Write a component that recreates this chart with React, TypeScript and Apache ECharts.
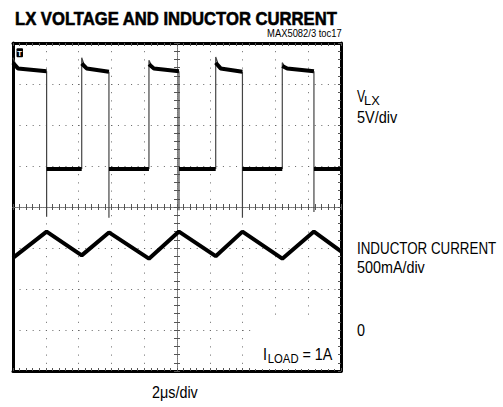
import React, { useEffect, useRef } from "react";
import * as echarts from "echarts";

// ---- LX voltage trace (time in µs, volts) ----
const highStartTimes = [0, 4.19, 8.29, 12.36, 16.42];
const fallTimes = [2.05, 5.85, 10.12, 13.99, 18.35];
const riseTimes = [4.19, 8.29, 12.36, 16.42];
const highPeakV = [13.2, 13.2, 12.9, 13.3, 12.6];
const highStartV = [12.6, 12.5, 12.4, 12.6, 12.2];
const highSettleV = [11.9, 11.9, 11.9, 11.9, 11.9];
const highEndV = [11.55, 11.5, 11.55, 11.5, 11.55];
const lowV = [-0.37, -0.37, -0.37, -0.37, -0.37];
const spikeV = [-6.2, -6.3, -5.4, -6.3, -5.6];

// ---- Inductor current trace (time in µs, amps) ----
const iTimes = [0, 2.05, 4.19, 5.85, 8.29, 10.12, 12.36, 13.99, 16.42, 18.35, 20];
const iAmps = [0.88, 1.2, 0.91, 1.19, 0.87, 1.2, 0.9, 1.2, 0.87, 1.2, 0.96];

const T_END = 20;

const FONT = "Liberation Sans, Arial, sans-serif";

function buildOption() {
  const levels: any[] = [];
  for (let i = 0; i < highStartTimes.length; i++) {
    const hs = highStartTimes[i];
    const he = fallTimes[i];
    levels.push([hs, highStartV[i]], [hs + 0.3, highSettleV[i]], [he, highEndV[i]], [he, "-"]);
    const le = i < riseTimes.length ? riseTimes[i] : T_END;
    levels.push([he, lowV[i]], [le, lowV[i]], [le, "-"]);
  }
  const edges: any[] = [];
  for (let i = 0; i < fallTimes.length; i++) {
    edges.push([fallTimes[i], highEndV[i]], [fallTimes[i], spikeV[i]], [fallTimes[i], "-"]);
  }
  edges.push([highStartTimes[0], highPeakV[0]], [highStartTimes[0] + 0.12, highStartV[0]], [0, "-"]);
  for (let i = 0; i < riseTimes.length; i++) {
    edges.push(
      [riseTimes[i], lowV[i]],
      [riseTimes[i], highPeakV[i + 1]],
      [riseTimes[i] + 0.12, highStartV[i + 1]],
      [riseTimes[i], "-"]
    );
  }
  const current = iTimes.map((t, k) => [t, iAmps[k]]);

  const tickStyle = { color: "#555", width: 1 };
  const frameLine = { show: true, onZero: false, lineStyle: { color: "#000", width: 3 } };
  const centerLine = (idx: number) => ({
    show: true,
    onZero: true,
    onZeroAxisIndex: idx,
    lineStyle: { color: "#777", width: 1, type: [1, 1] },
  });
  const ticks = { show: true, inside: true, length: 3, lineStyle: tickStyle };
  const minor = { show: true, splitNumber: 5, length: 3, lineStyle: tickStyle };
  const noLabel = { show: false };
  const timeAxis = { type: "value", min: 0, max: T_END, interval: 2, axisLabel: noLabel };
  const divAxis = { type: "value", min: -4, max: 4, interval: 1, axisLabel: noLabel };

  const txt = (
    text: string,
    x: number,
    y: number,
    size: number,
    scaleX: number,
    opts: any = {}
  ) => ({
    type: "text",
    x,
    y,
    scaleX,
    z: 101,
    style: {
      text,
      x: 0,
      y: 0,
      fill: opts.fill || "#000",
      font: `${opts.weight || "normal"} ${size}px ${FONT}`,
      align: opts.align || "left",
      verticalAlign: "middle",
      stroke: opts.stroke || undefined,
      lineWidth: opts.lineWidth || 0,
    },
  });

  return {
    animation: false,
    backgroundColor: "#fff",
    grid: { left: 13, top: 43, width: 328, height: 328, containLabel: false },
    xAxis: [
      { ...timeAxis, position: "bottom", axisLine: frameLine, axisTick: ticks, minorTick: minor,
        splitLine: { show: true, lineStyle: { color: "#666", width: 1, type: [1, 7.2] } } },
      { ...timeAxis, position: "top", axisLine: frameLine, axisTick: ticks, minorTick: minor, splitLine: { show: false } },
      { ...timeAxis, position: "bottom", axisLine: centerLine(0), axisTick: ticks, minorTick: minor, splitLine: { show: false } },
      { ...timeAxis, position: "top", axisLine: centerLine(0), axisTick: ticks, minorTick: minor, splitLine: { show: false } },
      { type: "value", min: -5, max: 5, show: false },
    ],
    yAxis: [
      { ...divAxis, position: "left", axisLine: frameLine, axisTick: { show: false },
        splitLine: { show: true, lineStyle: { color: "#666", width: 1, type: [1, 5.56] } } },
      { ...divAxis, position: "right", axisLine: frameLine, axisTick: ticks, minorTick: minor, splitLine: { show: false } },
      { ...divAxis, position: "left", axisLine: centerLine(4), axisTick: ticks, minorTick: minor, splitLine: { show: false } },
      { ...divAxis, position: "right", axisLine: centerLine(4), axisTick: ticks, minorTick: minor, splitLine: { show: false } },
      { type: "value", min: -25, max: 15, show: false },
      { type: "value", min: -0.5, max: 3.5, show: false },
    ],
    series: [
      { type: "line", name: "VLX edges", xAxisIndex: 0, yAxisIndex: 4, data: edges, symbol: "none",
        lineStyle: { color: "#444", width: 1.2 }, z: 3 },
      { type: "line", name: "VLX", xAxisIndex: 0, yAxisIndex: 4, data: levels, symbol: "none",
        lineStyle: { color: "#000", width: 4, cap: "butt" }, z: 4 },
      { type: "line", name: "Inductor current", xAxisIndex: 0, yAxisIndex: 5, data: current, symbol: "none",
        lineStyle: { color: "#000", width: 4 }, z: 4 },
    ],
    graphic: [
      { type: "rect", z: 100, shape: { x: 252, y: 320, width: 84, height: 49 }, style: { fill: "#fff" } },
      { type: "rect", z: 100, shape: { x: 16.5, y: 48.3, width: 6.5, height: 9, r: 1 }, style: { fill: "#000" } },
      txt("T", 19.75, 53, 8, 1, { weight: "bold", align: "center", fill: "#fff" }),
      txt("LX VOLTAGE AND INDUCTOR CURRENT", 15, 18.6, 18.5, 0.9, { weight: "bold", stroke: "#000", lineWidth: 0.6 }),
      txt("MAX5082/3 toc17", 341.7, 33.2, 10, 0.94, { align: "right" }),
      txt("V", 357, 96.2, 17, 0.72),
      txt("LX", 364, 100.4, 13.5, 0.95),
      txt("5V/div", 357, 117.6, 16.5, 0.88),
      txt("INDUCTOR CURRENT", 357, 247.6, 16.5, 0.81),
      txt("500mA/div", 357, 267.6, 16.5, 0.87),
      txt("0", 357, 330.2, 16.5, 0.87),
      txt("2\u03bcs/div", 152, 392.6, 16.5, 0.87),
      txt("I", 263, 354, 16.5, 0.87),
      txt("LOAD", 267.8, 358.4, 13, 0.87),
      txt(" = 1A", 298.5, 354, 16.5, 0.87),
    ],
  };
}

export default function App() {
  const ref = useRef<HTMLDivElement>(null);
  useEffect(() => {
    if (!ref.current) return;
    const chart = echarts.init(ref.current, undefined, { renderer: "svg" });
    chart.setOption(buildOption() as any);
    return () => chart.dispose();
  }, []);
  return (
    <div
      ref={ref}
      style={{ position: "absolute", left: 0, top: 0, width: 503, height: 407, background: "#fff" }}
    />
  );
}
